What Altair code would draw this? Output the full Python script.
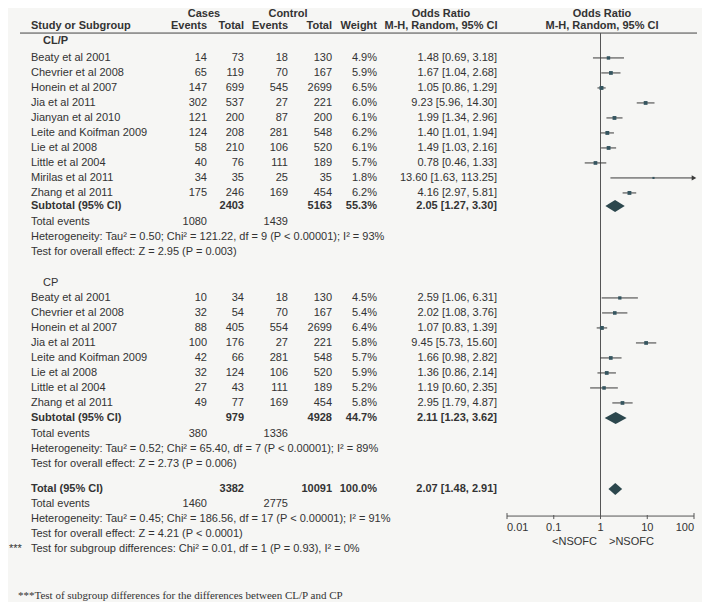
import altair as alt
import pandas as pd

# ---------------- data ----------------
clp_study = ["Beaty et al 2001", "Chevrier et al 2008", "Honein et al 2007", "Jia et al 2011",
             "Jianyan et al 2010", "Leite and Koifman 2009", "Lie et al 2008", "Little et al  2004",
             "Mirilas et al 2011", "Zhang et al 2011"]
clp_case_events = [14, 65, 147, 302, 121, 124, 58, 40, 34, 175]
clp_case_total = [73, 119, 699, 537, 200, 208, 210, 76, 35, 246]
clp_ctrl_events = [18, 70, 545, 27, 87, 281, 106, 111, 25, 169]
clp_ctrl_total = [130, 167, 2699, 221, 200, 548, 520, 189, 35, 454]
clp_weight = [4.9, 5.9, 6.5, 6.0, 6.1, 6.2, 6.1, 5.7, 1.8, 6.2]
clp_or = [1.48, 1.67, 1.05, 9.23, 1.99, 1.40, 1.49, 0.78, 13.60, 4.16]
clp_lo = [0.69, 1.04, 0.86, 5.96, 1.34, 1.01, 1.03, 0.46, 1.63, 2.97]
clp_hi = [3.18, 2.68, 1.29, 14.30, 2.96, 1.94, 2.16, 1.33, 113.25, 5.81]

cp_study = ["Beaty et al 2001", "Chevrier et al 2008", "Honein et al 2007", "Jia et al 2011",
            "Leite and Koifman 2009", "Lie et al 2008", "Little et al  2004", "Zhang et al 2011"]
cp_case_events = [10, 32, 88, 100, 42, 32, 27, 49]
cp_case_total = [34, 54, 405, 176, 66, 124, 43, 77]
cp_ctrl_events = [18, 70, 554, 27, 281, 106, 111, 169]
cp_ctrl_total = [130, 167, 2699, 221, 548, 520, 189, 454]
cp_weight = [4.5, 5.4, 6.4, 5.8, 5.7, 5.9, 5.2, 5.8]
cp_or = [2.59, 2.02, 1.07, 9.45, 1.66, 1.36, 1.19, 2.95]
cp_lo = [1.06, 1.08, 0.83, 5.73, 0.98, 0.86, 0.60, 1.79]
cp_hi = [6.31, 3.76, 1.39, 15.60, 2.82, 2.14, 2.35, 4.87]

# subtotal / total: [case total, ctrl total, weight, OR, lo, hi, case events, ctrl events]
clp_sub = [2403, 5163, 55.3, 2.05, 1.27, 3.30, 1080, 1439]
cp_sub = [979, 4928, 44.7, 2.11, 1.23, 3.62, 380, 1336]
all_tot = [3382, 10091, 100.0, 2.07, 1.48, 2.91, 1460, 2775]

clp_het = "Heterogeneity: Tau² = 0.50; Chi² = 121.22, df = 9 (P < 0.00001); I² = 93%"
clp_test = "Test for overall effect: Z = 2.95 (P = 0.003)"
cp_het = "Heterogeneity: Tau² = 0.52; Chi² = 65.40, df = 7 (P < 0.00001); I² = 89%"
cp_test = "Test for overall effect: Z = 2.73 (P = 0.006)"
tot_het = "Heterogeneity: Tau² = 0.45; Chi² = 186.56, df = 17 (P < 0.00001); I² = 91%"
tot_test = "Test for overall effect: Z = 4.21 (P < 0.0001)"
sub_diff = "Test for subgroup differences: Chi² = 0.01, df = 1 (P = 0.93), I² = 0%"
footnote = "***Test of subgroup differences for the differences between CL/P and CP"

axis_ticks = [0.01, 0.1, 1, 10, 100]
axis_labels = ["0.01", "0.1", "1", "10", "100"]
favours = ["<NSOFC", ">NSOFC"]

# ---------------- layout (rows of 15 px) ----------------
R_CASES, R_HDR, R_RULE, R_CLP = 0.38, 1.18, 1.67, 2.2
R_CLP0 = 3.33
R_CLP_SUB = 13.2
R_CP = 18.33
R_CP0 = 19.33
R_CP_SUB = 27.33
R_TOT = 32.07
R_AXIS, R_TICKLAB, R_FAV = 33.87, 34.67, 35.6
R_FOOT = 39.2

H = 594
W = 694
COLS = {
    "study": (23, "left"), "group": (35, "left"),
    "ce": (199, "right"), "ct": (236, "right"), "ke": (280, "right"), "kt": (324, "right"),
    "w": (369, "right"), "or": (489, "right"),
    "h_cases": (196, "center"), "h_ctrl": (280, "center"),
    "h_or": (433, "center"), "h_plot": (594, "center"),
    "stars": (1, "left"), "foot": (10, "left"),
    "fav_l": (589, "right"), "fav_r": (601, "left"),
}

TXT = "#333333"
SQ = "#35555f"
DIA = "#2c474d"
LINE = "#3a3a3a"

items = []


def add(text, col, row, bold=False, font="Liberation Sans"):
    items.append(dict(text=str(text), col=col, row=row, bold=bold, font=font))


def fmt_or(o, l, h):
    return f"{o:.2f} [{l:.2f}, {h:.2f}]"


# headers
add("Cases", "h_cases", R_CASES, True)
add("Control", "h_ctrl", R_CASES, True)
add("Odds Ratio", "h_or", R_CASES, True)
add("Odds Ratio", "h_plot", R_CASES, True)
add("Study or Subgroup", "study", R_HDR, True)
add("Events", "ce", R_HDR, True)
add("Total", "ct", R_HDR, True)
add("Events", "ke", R_HDR, True)
add("Total", "kt", R_HDR, True)
add("Weight", "w", R_HDR, True)
add("M-H, Random, 95% CI", "h_or", R_HDR, True)
add("M-H, Random, 95% CI", "h_plot", R_HDR, True)

forest = []


def add_group(label, label_row, label_bold, studies, ce, ct, ke, kt, w, o, lo, hi, r0, rsub, sub, het, test):
    add(label, "group", label_row, label_bold)
    for i, s in enumerate(studies):
        r = r0 + i
        add(s, "study", r)
        add(ce[i], "ce", r)
        add(ct[i], "ct", r)
        add(ke[i], "ke", r)
        add(kt[i], "kt", r)
        add(f"{w[i]:.1f}%", "w", r)
        add(fmt_or(o[i], lo[i], hi[i]), "or", r)
        forest.append(dict(row=r, orv=o[i], lo=lo[i], hi=min(hi[i], 100), w=w[i], arrow=hi[i] > 100))
    add("Subtotal (95% CI)", "study", rsub, True)
    add(sub[0], "ct", rsub, True)
    add(sub[1], "kt", rsub, True)
    add(f"{sub[2]:.1f}%", "w", rsub, True)
    add(fmt_or(sub[3], sub[4], sub[5]), "or", rsub, True)
    add("Total events", "study", rsub + 1.07)
    add(sub[6], "ce", rsub + 1.07)
    add(sub[7], "ke", rsub + 1.07)
    add(het, "study", rsub + 2.07)
    add(test, "study", rsub + 3.07)


add_group("CL/P", R_CLP, True, clp_study, clp_case_events, clp_case_total, clp_ctrl_events,
          clp_ctrl_total, clp_weight, clp_or, clp_lo, clp_hi, R_CLP0, R_CLP_SUB, clp_sub, clp_het, clp_test)
add_group("CP", R_CP, False, cp_study, cp_case_events, cp_case_total, cp_ctrl_events,
          cp_ctrl_total, cp_weight, cp_or, cp_lo, cp_hi, R_CP0, R_CP_SUB, cp_sub, cp_het, cp_test)

add("Total (95% CI)", "study", R_TOT, True)
add(all_tot[0], "ct", R_TOT, True)
add(all_tot[1], "kt", R_TOT, True)
add(f"{all_tot[2]:.1f}%", "w", R_TOT, True)
add(fmt_or(all_tot[3], all_tot[4], all_tot[5]), "or", R_TOT, True)
add("Total events", "study", R_TOT + 1)
add(all_tot[6], "ce", R_TOT + 1)
add(all_tot[7], "ke", R_TOT + 1)
add(tot_het, "study", R_TOT + 2)
add(tot_test, "study", R_TOT + 3)
add("***", "stars", R_TOT + 4)
add(sub_diff, "study", R_TOT + 4)
add(favours[0], "fav_l", R_FAV)
add(favours[1], "fav_r", R_FAV)
add(footnote, "foot", R_FOOT, False, "Liberation Serif")

text_df = pd.DataFrame(items)
forest_df = pd.DataFrame(forest)

diamonds = []
for gid, (rr, s) in enumerate([(R_CLP_SUB, clp_sub), (R_CP_SUB, cp_sub), (R_TOT, all_tot)]):
    diamonds.append(dict(g=gid, x=s[4], y=rr, y2=rr))
    diamonds.append(dict(g=gid, x=s[3], y=rr - 0.4, y2=rr + 0.4))
    diamonds.append(dict(g=gid, x=s[5], y=rr, y2=rr))
dia_df = pd.DataFrame(diamonds)

# ---------------- scales ----------------
yscale = alt.Scale(domain=[0, H / 15], range=[0, H])
xscale = alt.Scale(type="log", domain=[0.01, 100], range=[499, 686])
Y = lambda f="row": alt.Y(f"{f}:Q", scale=yscale, axis=None)
X = lambda f: alt.X(f"{f}:Q", scale=xscale, axis=None)

layers = []

# header rule
layers.append(alt.Chart(pd.DataFrame({"row": [R_RULE]})).mark_rule(color="#444444", strokeWidth=1)
              .encode(x=alt.value(12), x2=alt.value(689), y=Y()))
# line of no effect
layers.append(alt.Chart(pd.DataFrame({"x": [1], "row": [R_RULE], "row2": [R_AXIS]}))
              .mark_rule(color="#555555", strokeWidth=1)
              .encode(x=X("x"), y=Y(), y2="row2:Q"))
# axis line
layers.append(alt.Chart(pd.DataFrame({"x": [axis_ticks[0]], "x2": [axis_ticks[-1]], "row": [R_AXIS]}))
              .mark_rule(color="#555555", strokeWidth=1)
              .encode(x=X("x"), x2="x2:Q", y=Y()))
tick_df = pd.DataFrame({"x": axis_ticks, "lab": axis_labels,
                        "row": [R_AXIS - 0.2, R_AXIS - 0.07, R_AXIS - 0.07, R_AXIS - 0.07, R_AXIS - 0.2],
                        "row2": [R_AXIS + 0.2] * 5, "lrow": [R_TICKLAB] * 5,
                        "pos": ["first", "mid", "mid", "mid", "last"]})
layers.append(alt.Chart(tick_df).mark_rule(color="#555555", strokeWidth=1)
              .encode(x=X("x"), y=Y(), y2="row2:Q"))
for pos, align in [("first", "left"), ("mid", "center"), ("last", "right")]:
    layers.append(alt.Chart(tick_df).transform_filter(f"datum.pos == '{pos}'")
                  .mark_text(font="Liberation Sans", fontSize=11, color=TXT, baseline="middle", align=align)
                  .encode(x=X("x"), y=Y("lrow"), text="lab:N"))

# CIs
layers.append(alt.Chart(forest_df).mark_rule(color=LINE, strokeWidth=1)
              .encode(x=X("lo"), x2="hi:Q", y=Y()))
# arrows for CIs beyond the axis
layers.append(alt.Chart(forest_df).transform_filter("datum.arrow")
              .mark_point(shape="triangle-right", filled=True, color=LINE, size=28, opacity=1)
              .encode(x=X("hi"), y=Y()))
# squares
layers.append(alt.Chart(forest_df).mark_square(color=SQ, opacity=1)
              .encode(x=X("orv"), y=Y(),
                      size=alt.Size("w:Q", scale=alt.Scale(domain=[0, 10], range=[0, 24]), legend=None)))
# diamonds
layers.append(alt.Chart(dia_df).mark_area(color=DIA, orient="vertical", opacity=1)
              .encode(x=X("x"), y=Y("y"), y2="y2:Q", detail="g:N"))

# text columns
for (col, bold, font), sub in text_df.groupby(["col", "bold", "font"]):
    px, align = COLS[col]
    layers.append(alt.Chart(sub).mark_text(align=align, baseline="middle", font=font, fontSize=11,
                                           fontWeight="bold" if bold else "normal", color=TXT)
                  .encode(x=alt.value(px), y=Y(), text="text:N"))

chart = alt.layer(*layers).properties(
    width=W, height=H, padding=0, autosize="none", background="#f6f6f4"
).configure_view(strokeWidth=0)

chart.save("out.html", embed_options={"renderer": "svg", "actions": False})
